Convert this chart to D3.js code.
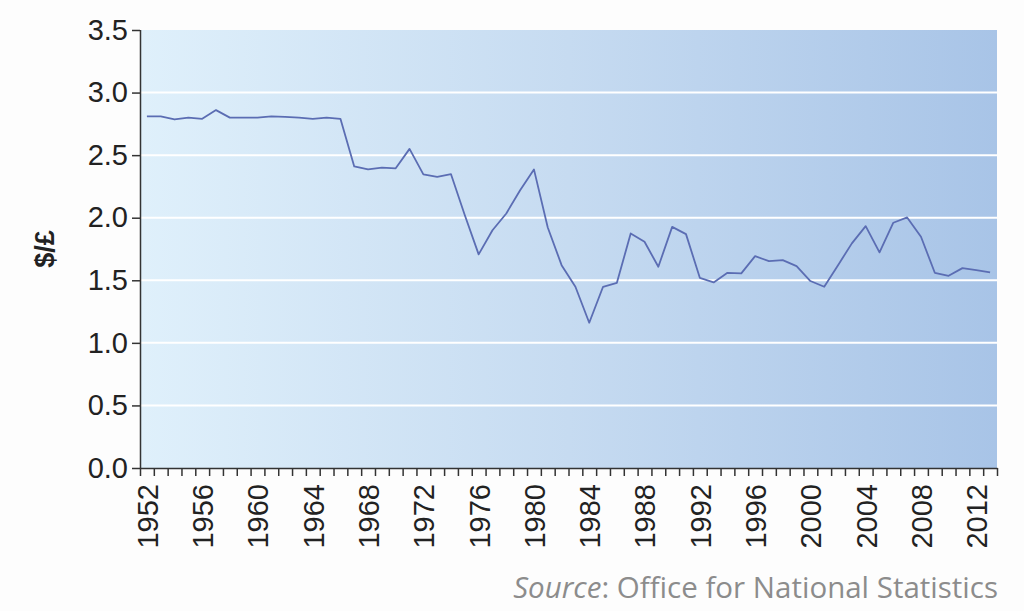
<!DOCTYPE html>
<html>
<head>
<meta charset="utf-8">
<script src="https://cdn.jsdelivr.net/npm/d3@7"></script>
<style>
  body { margin: 0; background: #fdfdfd; }
  svg { display: block; }
</style>
</head>
<body>
<script>
"use strict";

// DATA: annual $/£ exchange rate
const years = d3.range(1952, 2014);
const rates = [
  2.81, 2.81, 2.785, 2.80, 2.79, 2.86, 2.80, 2.80, 2.80, 2.81,
  2.805, 2.80, 2.79, 2.80, 2.79, 2.41, 2.386, 2.40, 2.395, 2.55,
  2.346, 2.327, 2.348, 2.02, 1.707, 1.90, 2.034, 2.22, 2.386, 1.922,
  1.621, 1.448, 1.161, 1.448, 1.48, 1.874, 1.808, 1.608, 1.927, 1.869,
  1.52, 1.483, 1.56, 1.555, 1.693, 1.653, 1.661, 1.613, 1.494, 1.448,
  1.621, 1.795, 1.933, 1.723, 1.96, 2.002, 1.848, 1.56, 1.536, 1.597,
  1.581, 1.563
];
const yTicks = [0, 0.5, 1, 1.5, 2, 2.5, 3, 3.5];
const labelYears = d3.range(1952, 2014, 4);

const data = years.map((y, i) => ({ year: y, rate: rates[i] }));

const width = 1024, height = 611;
const margin = { top: 30, right: 27, bottom: 143, left: 140 };
const font = "Liberation Sans, Arial, sans-serif";

const svg = d3.select("body").append("svg")
  .attr("width", width).attr("height", height);

// year sits in the middle of its slot, ticks on slot edges
const x = d3.scaleLinear()
  .domain([years[0] - 0.5, years[years.length - 1] + 0.5])
  .range([margin.left, width - margin.right]);
const y = d3.scaleLinear()
  .domain([0, 3.5])
  .range([height - margin.bottom, margin.top]);

// BACKGROUND GRADIENT
const grad = svg.append("defs").append("linearGradient")
  .attr("id", "bg").attr("x1", 0).attr("x2", 1).attr("y1", 0).attr("y2", 0);
grad.append("stop").attr("offset", 0).attr("stop-color", "#dff0fb");
grad.append("stop").attr("offset", 0.5).attr("stop-color", "#c6dbf1");
grad.append("stop").attr("offset", 1).attr("stop-color", "#a8c4e7");

svg.append("rect")
  .attr("x", margin.left).attr("y", margin.top)
  .attr("width", x.range()[1] - x.range()[0])
  .attr("height", y(0) - y(3.5))
  .attr("fill", "url(#bg)");

// GRID
svg.append("g")
  .selectAll("line")
  .data(yTicks.filter((d) => d > 0 && d < 3.5))
  .join("line")
  .attr("x1", margin.left).attr("x2", width - margin.right)
  .attr("y1", (d) => y(d)).attr("y2", (d) => y(d))
  .attr("stroke", "#fff").attr("stroke-width", 2);

// Y AXIS
const yAxis = svg.append("g")
  .attr("transform", `translate(${margin.left},0)`)
  .call(d3.axisLeft(y).tickValues(yTicks).tickFormat(d3.format(".1f")).tickSize(8).tickPadding(4))
  .call((g) => g.select(".domain").attr("stroke", "#333").attr("stroke-width", 1.5).attr("d", `M0.5,${y(3.5)}V${y(0)}`));
yAxis.selectAll(".tick line").attr("stroke", "#333").attr("stroke-width", 1.5);
yAxis.selectAll("text")
  .attr("font-family", font)
  .attr("font-size", 29).attr("fill", "#222");

// X AXIS: ticks on slot edges
const xTickVals = d3.range(years[0] - 0.5, years[years.length - 1] + 1, 1);
svg.append("g")
  .attr("transform", `translate(0,${y(0)})`)
  .call(d3.axisBottom(x).tickValues(xTickVals).tickFormat("").tickSize(8).tickSizeOuter(0))
  .call((g) => g.select(".domain").attr("stroke", "#333").attr("stroke-width", 1.5))
  .call((g) => g.selectAll(".tick line").attr("stroke", "#333").attr("stroke-width", 1.5));

// X labels, rotated
svg.append("g")
  .attr("transform", `translate(0,${y(0)})`)
  .call(d3.axisBottom(x).tickValues(labelYears).tickFormat(d3.format("d")).tickSize(0))
  .call((g) => g.select(".domain").remove())
  .selectAll("text")
  .attr("font-family", font)
  .attr("font-size", 29).attr("fill", "#222")
  .attr("text-anchor", "end")
  .attr("transform", "rotate(-90)")
  .attr("x", -16).attr("y", 0).attr("dy", "0.36em");

// Y TITLE
svg.append("text")
  .attr("transform", `translate(54,${(y(0) + y(3.5)) / 2}) rotate(-90)`)
  .attr("text-anchor", "middle")
  .attr("font-family", font)
  .attr("font-size", 27).attr("font-weight", "bold").attr("fill", "#222")
  .text("$/£");

// LINE
const line = d3.line().x((d) => x(d.year)).y((d) => y(d.rate));
svg.append("path")
  .datum(data)
  .attr("fill", "none")
  .attr("stroke", "#5b6db3")
  .attr("stroke-width", 1.8)
  .attr("stroke-linejoin", "round")
  .attr("d", line);

// SOURCE
const src = svg.append("text")
  .attr("x", width - margin.right + 1).attr("y", 598)
  .attr("text-anchor", "end")
  .attr("font-family", "Open Sans, Noto Sans, sans-serif")
  .attr("font-size", 29.5).attr("fill", "#8c8c8c");
src.append("tspan").attr("font-style", "italic").text("Source");
src.append("tspan").text(": Office for National Statistics");
</script>
</body>
</html>
